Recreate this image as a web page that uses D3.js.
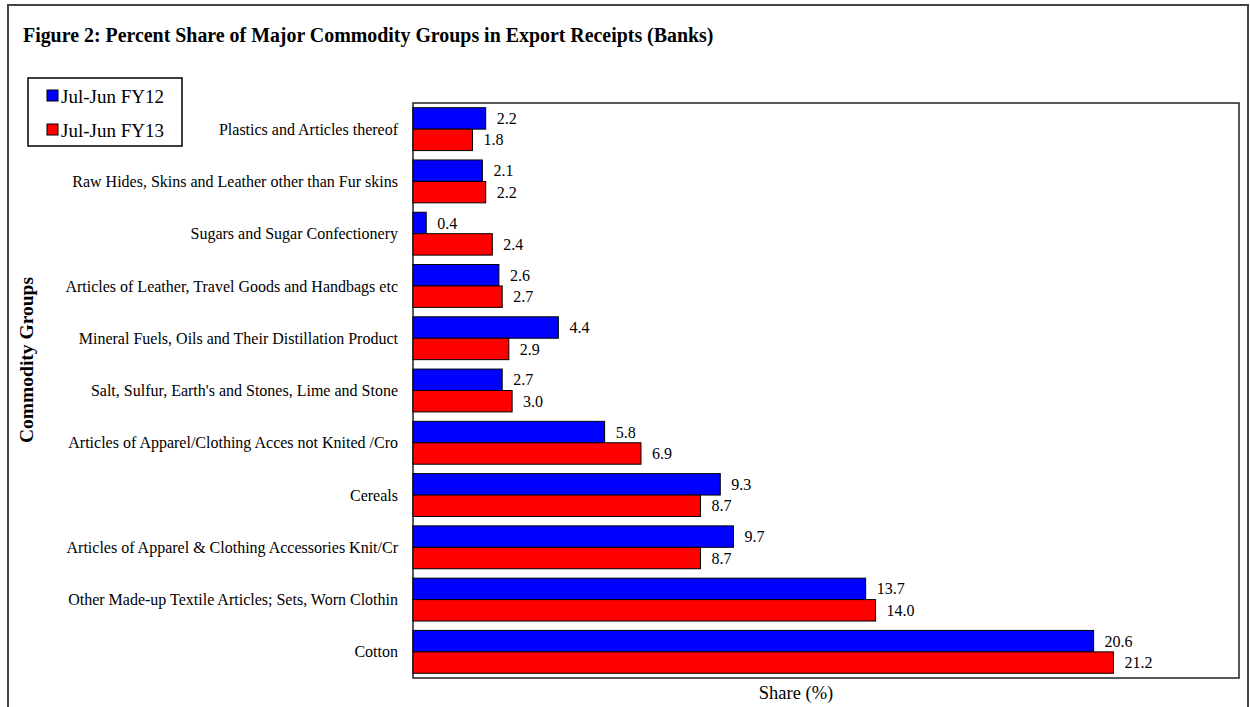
<!DOCTYPE html>
<html>
<head>
<meta charset="utf-8">
<script src="https://cdn.jsdelivr.net/npm/d3@7"></script>
<style>
  body { margin: 0; background: #fff; }
  svg text { font-family: "Liberation Serif", "Times New Roman", serif; fill: #000; }
</style>
</head>
<body>
<svg id="svg" width="1250" height="707"></svg>
<script>
const categories = [
    "Plastics and Articles thereof",
    "Raw Hides, Skins and Leather other than Fur skins",
    "Sugars and Sugar Confectionery",
    "Articles of Leather, Travel Goods and Handbags etc",
    "Mineral Fuels, Oils and Their Distillation Product",
    "Salt, Sulfur, Earth's and Stones, Lime and Stone",
    "Articles of Apparel/Clothing Acces not Knited /Cro",
    "Cereals",
    "Articles of Apparel & Clothing Accessories Knit/Cr",
    "Other Made-up Textile Articles; Sets, Worn Clothin",
    "Cotton"
];
const fy12 = [2.2, 2.1, 0.4, 2.6, 4.4, 2.7, 5.8, 9.3, 9.7, 13.7, 20.6];
const fy13 = [1.8, 2.2, 2.4, 2.7, 2.9, 3.0, 6.9, 8.7, 8.7, 14.0, 21.2];
const seriesNames = ["Jul-Jun FY12", "Jul-Jun FY13"];
const seriesColors = ["#0000ff", "#ff0000"];

const svg = d3.select("#svg");

// outer frame
svg.append("rect")
    .attr("x", 8).attr("y", 5)
    .attr("width", 1240).attr("height", 720)
    .style("fill", "none")
    .style("stroke", "#444")
    .style("stroke-width", 2);

svg.append("text")
    .attr("x", 23).attr("y", 42)
    .style("font-size", "19.9px")
    .style("font-weight", "bold")
    .text("Figure 2: Percent Share of Major Commodity Groups in Export Receipts (Banks)");

const plot = { left: 413, right: 1239, top: 103, bottom: 678 };

const x = d3.scaleLinear().domain([0, 25]).range([plot.left, plot.right]);
const y = d3.scaleBand().domain(categories)
    .range([plot.top, plot.bottom])
    .paddingInner(0.18).paddingOuter(0.09);
const sub = d3.scaleBand().domain([0, 1]).range([0, y.bandwidth()]);

svg.append("rect")
    .attr("x", plot.left).attr("y", plot.top)
    .attr("width", plot.right - plot.left).attr("height", plot.bottom - plot.top)
    .style("fill", "#fff")
    .style("stroke", "#222")
    .style("stroke-width", 1.5);

const rows = categories.map((c, i) => ({ cat: c, vals: [fy12[i], fy13[i]] }));

const groups = svg.selectAll("g.row").data(rows).enter().append("g")
    .attr("class", "row")
    .attr("transform", d => `translate(0,${y(d.cat)})`);

groups.selectAll("rect").data(d => d.vals).enter().append("rect")
    .attr("x", x(0))
    .attr("y", (v, j) => sub(j))
    .attr("width", v => x(v) - x(0))
    .attr("height", sub.bandwidth())
    .style("fill", (v, j) => seriesColors[j])
    .style("stroke", "#000")
    .style("stroke-width", 1);

groups.selectAll("text.val").data(d => d.vals).enter().append("text")
    .attr("class", "val")
    .attr("x", v => x(v) + 11)
    .attr("y", (v, j) => sub(j) + sub.bandwidth() / 2)
    .attr("dy", "0.35em")
    .style("font-size", "16px")
    .text(v => v.toFixed(1));

// category labels
svg.append("g").selectAll("text").data(categories).enter().append("text")
    .attr("x", 398)
    .attr("y", d => y(d) + y.bandwidth() / 2)
    .attr("dy", "0.35em")
    .attr("text-anchor", "end")
    .style("font-size", "16px")
    .text(d => d);

svg.append("text")
    .attr("transform", "translate(33,360) rotate(-90)")
    .attr("text-anchor", "middle")
    .style("font-size", "19.5px")
    .style("font-weight", "bold")
    .text("Commodity Groups");

svg.append("text")
    .attr("x", 796).attr("y", 699)
    .attr("text-anchor", "middle")
    .style("font-size", "18.5px")
    .text("Share (%)");

// legend
const legend = svg.append("g").attr("transform", "translate(28,78)");
legend.append("rect")
    .attr("width", 154).attr("height", 68)
    .style("fill", "#fff")
    .style("stroke", "#000")
    .style("stroke-width", 1.5);
seriesNames.forEach((name, i) => {
    legend.append("rect")
        .attr("x", 19).attr("y", 12 + i * 34)
        .attr("width", 11).attr("height", 11)
        .style("fill", seriesColors[i])
        .style("stroke", "#000");
    legend.append("text")
        .attr("x", 33).attr("y", 18 + i * 34)
        .attr("dy", "0.35em")
        .style("font-size", "19px")
        .text(name);
});
</script>
</body>
</html>
